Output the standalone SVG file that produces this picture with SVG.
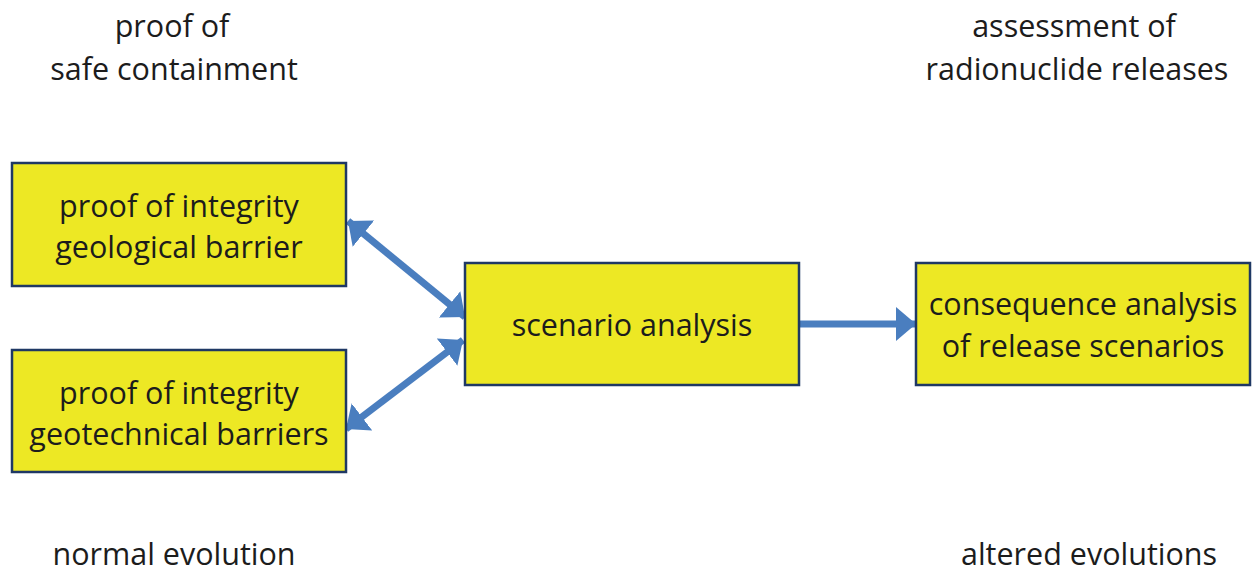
<svg xmlns="http://www.w3.org/2000/svg" width="1253" height="569" viewBox="0 0 1253 569">
  <style>
    .box { fill: #ede824; stroke: #1f3864; stroke-width: 2.5; }
    .lbl { font-family: "Open Sans", "Liberation Sans", sans-serif; font-size: 30.5px; fill: #1c1c1c; text-anchor: middle; }
    .link { stroke: #4a7ebf; stroke-width: 7; fill: none; }
  </style>
  <defs>
    <marker id="head" viewBox="0 0 20 34" refX="20" refY="17" markerWidth="20" markerHeight="34" markerUnits="userSpaceOnUse" orient="auto-start-reverse">
      <path d="M0,0 L20,17 L0,34 Z" fill="#4a7ebf"/>
    </marker>
  </defs>

  <!-- column headings -->
  <text class="lbl" x="172" y="37">proof of</text>
  <text class="lbl" x="174" y="80">safe containment</text>
  <text class="lbl" x="1074" y="37">assessment of</text>
  <text class="lbl" x="1077" y="80">radionuclide releases</text>
  <text class="lbl" x="174" y="565">normal evolution</text>
  <text class="lbl" x="1089" y="565">altered evolutions</text>

  <g id="connectors">
    <line class="link" x1="348" y1="221" x2="465" y2="317" marker-start="url(#head)" marker-end="url(#head)"/>
    <line class="link" x1="463" y1="340" x2="346" y2="429" marker-start="url(#head)" marker-end="url(#head)"/>
    <line class="link" x1="800" y1="324" x2="916" y2="324" marker-end="url(#head)"/>
  </g>

  <g id="geological">
    <rect class="box" x="12" y="163" width="334" height="123"/>
    <text class="lbl" x="179" y="217">proof of integrity</text>
    <text class="lbl" x="179" y="258">geological barrier</text>
  </g>

  <g id="geotechnical">
    <rect class="box" x="12" y="350" width="334" height="122"/>
    <text class="lbl" x="179" y="404">proof of integrity</text>
    <text class="lbl" x="179" y="445">geotechnical barriers</text>
  </g>

  <g id="scenario">
    <rect class="box" x="465" y="263" width="334" height="122"/>
    <text class="lbl" x="632" y="336">scenario analysis</text>
  </g>

  <g id="consequence">
    <rect class="box" x="916" y="263" width="334" height="122"/>
    <text class="lbl" x="1083" y="315">consequence analysis</text>
    <text class="lbl" x="1083" y="357">of release scenarios</text>
  </g>
</svg>
